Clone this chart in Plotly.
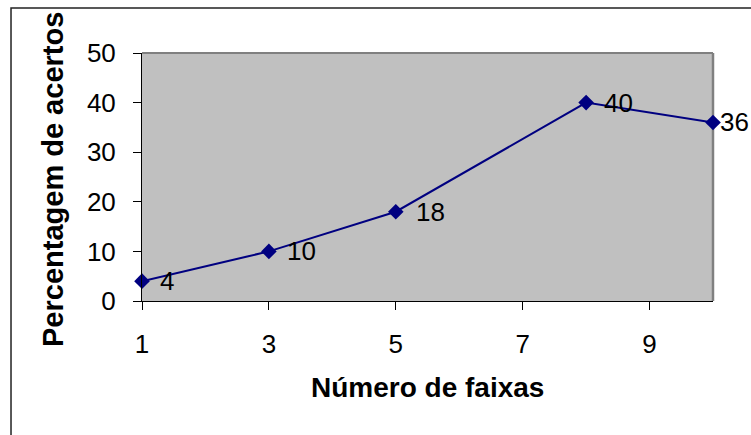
import plotly.graph_objects as go

# Number of bands vs. percentage of correct answers
faixas = [1, 3, 5, 8, 10]
acertos = [4, 10, 18, 40, 36]
x_ticks = [1, 3, 5, 7, 9]
y_ticks = [0, 10, 20, 30, 40, 50]
label_shift = [16, 16, 18, 16, 5]

FONT = "Liberation Sans, Arial, sans-serif"
NAVY = "#000080"

fig = go.Figure()
fig.add_trace(go.Scatter(
    x=faixas, y=acertos, mode="lines+markers",
    line=dict(color=NAVY, width=2),
    marker=dict(symbol="diamond", size=12, color=NAVY),
    cliponaxis=False, showlegend=False, hoverinfo="skip",
))

# value labels to the right of each point
for xv, yv, dx in zip(faixas, acertos, label_shift):
    fig.add_annotation(x=xv, y=yv, text=str(yv), showarrow=False,
                       xanchor="left", yanchor="middle", xshift=dx,
                       font=dict(family=FONT, size=26, color="black"))

# axis titles
fig.add_annotation(x=0.5, y=-0.35, xref="paper", yref="paper",
                   text="<b>Número de faixas</b>", showarrow=False,
                   xanchor="center", yanchor="middle",
                   font=dict(family=FONT, size=28, color="black"))
fig.add_annotation(x=-0.155, y=0.49, xref="paper", yref="paper",
                   text="<b>Percentagem de acertos</b>", showarrow=False,
                   textangle=-90, xanchor="center", yanchor="middle",
                   font=dict(family=FONT, size=29, color="black"))

# plot-area frame (grey top/right edges) and outer chart border
fig.add_shape(type="line", xref="paper", yref="paper", x0=0, x1=1, y0=1, y1=1,
              line=dict(color="#808080", width=2), layer="below")
fig.add_shape(type="line", xref="paper", yref="paper", x0=1, x1=1, y0=0, y1=1,
              line=dict(color="#808080", width=2.5), layer="below")
fig.add_shape(type="rect", xref="paper", yref="paper",
              x0=-0.2294, x1=1.2, y0=-0.7, y1=1.1815,
              line=dict(color="#222222", width=1.5), fillcolor="rgba(0,0,0,0)")

fig.update_xaxes(range=[1, 10], tickvals=x_ticks, ticks="outside", ticklen=8,
                 tickcolor="black", showline=True, linecolor="black", linewidth=1,
                 showgrid=False, zeroline=False, ticklabelstandoff=12,
                 tickfont=dict(family=FONT, size=26, color="black"))
fig.update_yaxes(range=[0, 50], tickvals=y_ticks, ticks="outside", ticklen=8,
                 tickcolor="black", showline=True, linecolor="black", linewidth=1,
                 showgrid=False, zeroline=False, ticklabelstandoff=12,
                 tickfont=dict(family=FONT, size=26, color="black"))

fig.update_layout(
    width=751, height=435,
    margin=dict(l=142, r=38, t=53, b=134),
    plot_bgcolor="#C0C0C0", paper_bgcolor="white",
)

fig.write_html("out.html")
